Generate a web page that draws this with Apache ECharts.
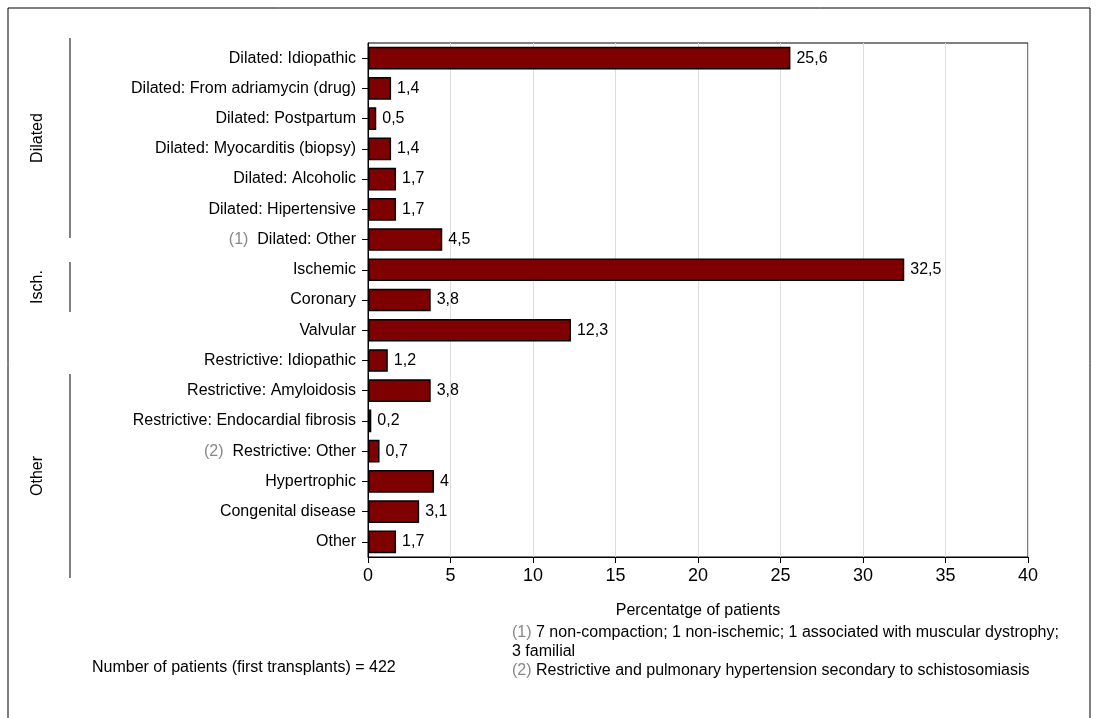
<!DOCTYPE html><html><head><meta charset="utf-8"><script src="https://cdn.jsdelivr.net/npm/echarts@6/dist/echarts.min.js"></script>
<style>body{margin:0;background:#fff}#c{width:1099px;height:718px}</style></head><body><div id="c"></div><script>
const categories=["Dilated: Idiopathic","Dilated: From adriamycin (drug)","Dilated: Postpartum","Dilated: Myocarditis (biopsy)","Dilated: Alcoholic","Dilated: Hipertensive","{g|(1)}  Dilated: Other","Ischemic","Coronary","Valvular","Restrictive: Idiopathic","Restrictive: Amyloidosis","Restrictive: Endocardial fibrosis","{g|(2)}  Restrictive: Other","Hypertrophic","Congenital disease","Other"];
const values=[25.6,1.4,0.5,1.4,1.7,1.7,4.5,32.5,3.8,12.3,1.2,3.8,0.2,0.7,4,3.1,1.7];
const F='"Liberation Sans Narrow", "Liberation Sans", Arial, sans-serif';
const ch=echarts.init(document.getElementById('c'));
const line=(x,y1,y2)=>({type:'line',shape:{x1:x,y1:y1,x2:x,y2:y2},style:{stroke:'#000',lineWidth:1}});
const txt=(x,y,t,rot,extra)=>Object.assign({type:'text',x:x,y:y,rotation:rot||0,style:{text:t,font:'16px '+F,fill:'#000',textAlign:rot?'center':'left',textVerticalAlign:'middle'}},extra||{});
ch.setOption({
 animation:false,
 grid:{left:368,right:71,top:43,bottom:161,show:true,borderColor:'#000',borderWidth:1},
 xAxis:{type:'value',min:0,max:40,interval:5,position:'bottom',
  axisLine:{show:true,lineStyle:{color:'#000'}},axisTick:{show:true,length:6,lineStyle:{color:'#000'}},
  axisLabel:{fontFamily:F,fontSize:18,color:'#000',margin:10},
  splitLine:{lineStyle:{color:'#ddd'}},
  name:'Percentatge of patients',nameLocation:'middle',nameGap:46,nameTextStyle:{fontFamily:F,fontSize:16,color:'#000'}},
 yAxis:{type:'category',inverse:true,data:categories,
  axisLine:{lineStyle:{color:'#000'}},axisTick:{show:true,length:6,alignWithLabel:true,lineStyle:{color:'#000'}},
  axisLabel:{fontFamily:F,fontSize:16,color:'#000',margin:12,rich:{g:{fontFamily:F,fontSize:16,color:'#888'}}}},
 series:[{type:'bar',data:values,barCategoryGap:'25%',
  itemStyle:{color:'#7f0000',borderColor:'#000',borderWidth:1.5},
  label:{show:true,position:'right',distance:6,fontFamily:F,fontSize:16,color:'#000',formatter:p=>String(p.value).replace('.',',')}}],
 graphic:[
  {type:'rect',shape:{x:8,y:8,width:1082,height:720},style:{fill:null,stroke:'#000',lineWidth:1}},
  line(70,38,238),line(70,262,312),line(70,374,578),
  txt(38,138,'Dilated',Math.PI/2),txt(38,287,'Isch.',Math.PI/2),txt(38,476,'Other',Math.PI/2),
  txt(92,668,'Number of patients (first transplants) = 422'),
  {type:'text',x:512,y:633,style:{text:'{g|(1)} 7 non-compaction; 1 non-ischemic; 1 associated with muscular dystrophy;',rich:{g:{fill:'#888',font:'16px '+F}},font:'16px '+F,fill:'#000',textVerticalAlign:'middle'}},
  {type:'text',x:512,y:652,style:{text:'3 familial',font:'16px '+F,fill:'#000',textVerticalAlign:'middle'}},
  {type:'text',x:512,y:671,style:{text:'{g|(2)} Restrictive and pulmonary hypertension secondary to schistosomiasis',rich:{g:{fill:'#888',font:'16px '+F}},font:'16px '+F,fill:'#000',textVerticalAlign:'middle'}},
  {type:'rect',shape:{x:1091,y:600,width:8,height:118},style:{fill:'#fff'}}
 ]
});
</script></body></html>
